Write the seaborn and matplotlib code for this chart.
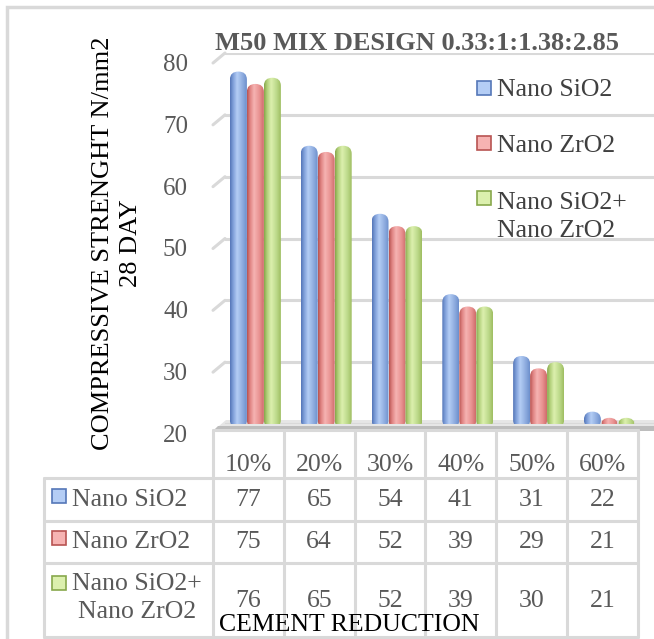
import numpy as np
import pandas as pd
import seaborn as sns
import matplotlib
matplotlib.use("Agg")
import matplotlib.pyplot as plt
from matplotlib.patches import FancyBboxPatch, Rectangle, Polygon
from matplotlib.lines import Line2D
from matplotlib import transforms
from matplotlib.colors import to_rgb

# ---- data -------------------------------------------------------------
reductions = ["10%", "20%", "30%", "40%", "50%", "60%"]
series = ["Nano SiO2", "Nano ZrO2", "Nano SiO2+\nNano ZrO2"]
nano_sio2 = [77, 65, 54, 41, 31, 22]
nano_zro2 = [75, 64, 52, 39, 29, 21]
nano_mix = [76, 65, 52, 39, 30, 21]
y_ticks = [20, 30, 40, 50, 60, 70, 80]

title = "M50 MIX DESIGN 0.33:1:1.38:2.85"
y_label = "COMPRESSIVE STRENGHT N/mm2\n28 DAY"
x_label = "CEMENT REDUCTION"

base_colors = ["#4f81bd", "#c0504d", "#9bbb59"]
# cylinder shading: edge, mid, highlight, mid, edge
shades = [
    ["#5577b8", "#7f9fd9", "#b4cdf5", "#8eacdf", "#6d8fcc"],
    ["#b85452", "#e08483", "#f6b3b2", "#e89190", "#cf6c6a"],
    ["#87a84c", "#b2d07a", "#dcf0ae", "#bcd98a", "#9fbe62"],
]

df = pd.DataFrame({
    "reduction": reductions * 3,
    "strength": nano_sio2 + nano_zro2 + nano_mix,
    "series": sum([[s] * len(reductions) for s in series], []),
})

W, H = 654, 639
sns.set_theme(style="white")
plt.rcParams["font.family"] = ["Liberation Serif", "DejaVu Serif"]

fig = plt.figure(figsize=(W / 100, H / 100), dpi=100)
fig.patch.set_facecolor("white")


def fx(px):
    return px / W


def fy(py):
    return 1 - py / H


# plot area (back wall) in pixel coordinates
ax_left, ax_right = 225, 654
ax_top, ax_floor = 53, 424
col_w = 70.8
first_center = 255.4
xmin = -(first_center - ax_left) / col_w
xmax = xmin + (ax_right - ax_left) / col_w

ax = fig.add_axes([fx(ax_left), fy(ax_floor), fx(ax_right - ax_left), (ax_floor - ax_top) / H])
ax.patch.set_visible(False)

sns.barplot(data=df, x="reduction", y="strength", hue="series", hue_order=series,
            palette=base_colors, width=0.72, saturation=1, legend=False, ax=ax)
ax.set_xlim(xmin, xmax)
ax.set_ylim(20, 80)
ax.set_yticks(y_ticks)
ax.yaxis.grid(True, color="#d9d9d9", linewidth=2.2)
ax.set_axisbelow(True)
ax.tick_params(left=False, bottom=False, labelleft=False, labelbottom=False)
for sp in ax.spines.values():
    sp.set_visible(False)
ax.set_xlabel("")
ax.set_ylabel("")

xpp = (xmax - xmin) / (ax_right - ax_left)
ypp = 60 / (ax_floor - ax_top)

# replace flat bars with shaded, round-topped cylinders
for hi, cont in enumerate(ax.containers):
    cols = np.array([to_rgb(c) for c in shades[hi]])
    stops = np.array([0.0, 0.18, 0.42, 0.75, 1.0])
    t = np.linspace(0, 1, 48)
    grad = np.stack([np.interp(t, stops, cols[:, k]) for k in range(3)], axis=-1)[None, :, :]
    for bar in cont:
        bar.set_visible(False)
        x0, w, h = bar.get_x(), bar.get_width(), bar.get_height()
        bottom = 20 - 4 * ypp
        vr = 8 * ypp
        shape = FancyBboxPatch((x0, bottom), w, h - bottom,
                               boxstyle=f"round,pad=0,rounding_size={w / 2}",
                               mutation_aspect=vr / (w / 2),
                               transform=ax.transData, facecolor="none", edgecolor="none")
        ax.add_patch(shape)
        im = ax.imshow(grad, extent=(x0, x0 + w, bottom, h), aspect="auto",
                       interpolation="bilinear", zorder=3)
        im.set_clip_path(shape)
ax.set_xlim(xmin, xmax)
ax.set_ylim(20, 80)

# tick labels and the short perspective lines joining them to the wall
lab_tr = transforms.offset_copy(ax.get_yaxis_transform(), fig=fig, x=-37, y=-12, units="dots")
for v in y_ticks:
    ax.text(0, v, str(v), transform=lab_tr, ha="right", va="center",
            fontsize=18, color="#595959", clip_on=False)
for v in y_ticks[1:]:
    ax.add_line(Line2D([-12 * xpp / (xmax - xmin), 0], [v - 10 * ypp, v],
                       transform=ax.get_yaxis_transform(), color="#d9d9d9",
                       linewidth=2.2, clip_on=False))

# floor of the plot area
fig.add_artist(Polygon([(fx(213), fy(431)), (fx(226), fy(420)), (fx(654), fy(420)), (fx(654), fy(431))],
                       closed=True, transform=fig.transFigure, facecolor="#e6e6e6",
                       edgecolor="none", zorder=-2))
fig.add_artist(Polygon([(fx(213), fy(431)), (fx(218), fy(426)), (fx(654), fy(426)), (fx(654), fy(431))],
                       closed=True, transform=fig.transFigure, facecolor="#bdbdbd",
                       edgecolor="none", zorder=-2))

# title
fig.text(fx(215), fy(43), title, ha="left", va="center", fontsize=19,
         fontweight="bold", color="#595959")

# axis titles
fig.text(fx(117), fy(243), y_label, rotation=90, ha="center", va="center",
         multialignment="center", fontsize=19, color="black", linespacing=1.35)

# legend
leg_rows = [(90, 88), (146, 143), (217, 198)]
for (ty, my), name, cols in zip(leg_rows, series, shades):
    fig.add_artist(Rectangle((fx(477), fy(my + 7)), fx(14), 14 / H, transform=fig.transFigure,
                             facecolor=cols[2], edgecolor=cols[0], linewidth=1.2))
    fig.text(fx(497), fy(ty), name, ha="left", va="center", fontsize=18.5,
             color="#404040", linespacing=1.3)

# data table
grid_c = "#d9d9d9"
tab_left, tab_col0, tab_top, tab_head, tab_bot = 44, 213, 430, 478, 637
row_lines = [478, 521, 563, 637]
col_x = [tab_col0 + col_w * i for i in range(len(reductions) + 1)]


def hline(y, x0, x1):
    fig.add_artist(Line2D([fx(x0), fx(x1)], [fy(y), fy(y)], transform=fig.transFigure,
                          color=grid_c, linewidth=2.2))


def vline(x, y0, y1):
    fig.add_artist(Line2D([fx(x), fx(x)], [fy(y0), fy(y1)], transform=fig.transFigure,
                          color=grid_c, linewidth=2.2))


hline(tab_top, tab_col0, col_x[-1])
for y in row_lines:
    hline(y, tab_left, col_x[-1])
for x in col_x:
    vline(x, tab_top, tab_bot)
vline(tab_left, tab_head, tab_bot)

for i, r in enumerate(reductions):
    fig.text(fx(col_x[i] + col_w / 2), fy(465), r, ha="center", va="center",
             fontsize=18.5, color="#595959")

table_rows = [nano_sio2, nano_zro2, nano_mix]
row_centers = [500, 542, 601]
label_y = [500, 542, 598]
marker_y = [496, 538, 583]
for vals, name, cy, ly, my, cols in zip(table_rows, series, row_centers, label_y, marker_y, shades):
    for i, v in enumerate(vals):
        fig.text(fx(col_x[i] + col_w / 2), fy(cy), str(v), ha="center", va="center",
                 fontsize=18.5, color="#595959")
    fig.add_artist(Rectangle((fx(52), fy(my + 7)), fx(14), 14 / H, transform=fig.transFigure,
                             facecolor=cols[2], edgecolor=cols[0], linewidth=1.2))
    fig.text(fx(72), fy(ly), name, ha="left", va="center", multialignment="center",
             fontsize=18.5, color="#595959", linespacing=1.3)

fig.text(fx(349), fy(625), x_label, ha="center", va="center", fontsize=18.5, color="black")

# chart border
fig.add_artist(Rectangle((fx(7), fy(H + 5)), fx(W + 5), (H + 5 - 7) / H, transform=fig.transFigure,
                         facecolor="none", edgecolor="#d9d9d9", linewidth=2.5, zorder=-3))

fig.savefig("out.png", dpi=100, facecolor="white")
